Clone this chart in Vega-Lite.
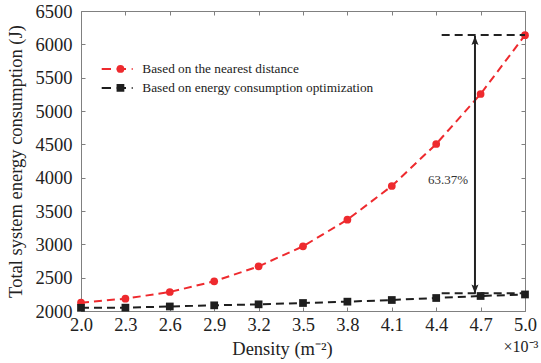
{
  "$schema": "https://vega.github.io/schema/vega-lite/v6.json",
  "width": 444,
  "height": 300,
  "autosize": {"type": "none"},
  "padding": {"left": 81, "top": 11, "right": 16, "bottom": 52},
  "background": "white",
  "config": {
    "view": {"stroke": null},
    "axis": {
      "grid": false,
      "domainColor": "#808080",
      "tickColor": "#808080",
      "labelFont": "Liberation Serif",
      "titleFont": "Liberation Serif",
      "labelColor": "#222222",
      "titleColor": "#222222",
      "labelFontSize": 18.5,
      "titleFontSize": 18.5,
      "titleFontWeight": "normal",
      "tickSize": -4
    }
  },
  "datasets": {
    "series": [
      {"d": 2.0, "e": 2125, "s": "Based on the nearest distance"},
      {"d": 2.3, "e": 2185, "s": "Based on the nearest distance"},
      {"d": 2.6, "e": 2285, "s": "Based on the nearest distance"},
      {"d": 2.9, "e": 2445, "s": "Based on the nearest distance"},
      {"d": 3.2, "e": 2670, "s": "Based on the nearest distance"},
      {"d": 3.5, "e": 2970, "s": "Based on the nearest distance"},
      {"d": 3.8, "e": 3370, "s": "Based on the nearest distance"},
      {"d": 4.1, "e": 3875, "s": "Based on the nearest distance"},
      {"d": 4.4, "e": 4505, "s": "Based on the nearest distance"},
      {"d": 4.7, "e": 5255, "s": "Based on the nearest distance"},
      {"d": 5.0, "e": 6137, "s": "Based on the nearest distance"},
      {"d": 2.0, "e": 2048, "s": "Based on energy consumption optimization"},
      {"d": 2.3, "e": 2050, "s": "Based on energy consumption optimization"},
      {"d": 2.6, "e": 2068, "s": "Based on energy consumption optimization"},
      {"d": 2.9, "e": 2085, "s": "Based on energy consumption optimization"},
      {"d": 3.2, "e": 2100, "s": "Based on energy consumption optimization"},
      {"d": 3.5, "e": 2120, "s": "Based on energy consumption optimization"},
      {"d": 3.8, "e": 2140, "s": "Based on energy consumption optimization"},
      {"d": 4.1, "e": 2165, "s": "Based on energy consumption optimization"},
      {"d": 4.4, "e": 2195, "s": "Based on energy consumption optimization"},
      {"d": 4.7, "e": 2225, "s": "Based on energy consumption optimization"},
      {"d": 5.0, "e": 2248, "s": "Based on energy consumption optimization"}
    ],
    "refs": [
      {"x1": 4.437, "x2": 5.0, "y": 6140},
      {"x1": 4.437, "x2": 5.0, "y": 2265}
    ],
    "arrow": [{"x": 4.662, "y1": 2262, "y2": 6125}],
    "up": [{"x": 4.662, "y": 6125}],
    "down": [{"x": 4.662, "y": 2262}],
    "pct": [{"x": 4.48, "y": 3969, "t": "63.37%"}],
    "expo": [{"x": 4.973, "y": 1453, "t": "×10⁻³"}]
  },
  "layer": [
    {
      "data": {"name": "series"},
      "mark": {"type": "line", "strokeDash": [8, 5], "strokeWidth": 2},
      "encoding": {
        "x": {
          "field": "d", "type": "quantitative",
          "scale": {"domain": [2.0, 5.0], "nice": false, "zero": false},
          "axis": {
            "orient": "bottom",
            "values": [2.0, 2.3, 2.6, 2.9, 3.2, 3.5, 3.8, 4.1, 4.4, 4.7, 5.0],
            "format": ".1f",
            "labelBaseline": "middle",
            "labelPadding": 17.5,
            "labelFlush": false,
            "title": "Density (m⁻²)",
            "titleX": 201,
            "titleY": 37,
            "titleBaseline": "middle",
            "titleAlign": "center"
          }
        },
        "y": {
          "field": "e", "type": "quantitative",
          "scale": {"domain": [2000, 6500], "nice": false, "zero": false},
          "axis": {
            "orient": "left",
            "values": [2000, 2500, 3000, 3500, 4000, 4500, 5000, 5500, 6000, 6500],
            "format": "d",
            "labelBaseline": "middle",
            "labelPadding": 13,
            "labelFlush": false,
            "title": "Total system energy consumption (J)",
            "titleX": -66,
            "titleY": 150,
            "titleAngle": -90,
            "titleBaseline": "middle",
            "titleAlign": "center"
          }
        },
        "color": {
          "field": "s", "type": "nominal",
          "scale": {
            "domain": ["Based on the nearest distance", "Based on energy consumption optimization"],
            "range": ["#ee2a2e", "#1e1e1e"]
          },
          "legend": {
            "orient": "none",
            "legendX": 19.7,
            "legendY": 48.6,
            "title": null,
            "padding": 0,
            "labelFont": "Liberation Serif",
            "labelFontSize": 13.3,
            "labelColor": "#222222",
            "labelLimit": 0,
            "symbolType": "stroke",
            "symbolSize": 961,
            "symbolDash": [9.3, 5.7],
            "symbolStrokeWidth": 2,
            "clipHeight": 18.7,
            "rowPadding": 0,
            "labelOffset": 8.6
          }
        }
      }
    },
    {
      "data": {"name": "series"},
      "mark": {"type": "point", "filled": true, "opacity": 1, "strokeWidth": 0, "size": 60},
      "encoding": {
        "x": {
          "field": "d", "type": "quantitative",
          "scale": {"domain": [2.0, 5.0], "nice": false, "zero": false},
          "axis": {
            "orient": "top",
            "values": [2.0, 2.3, 2.6, 2.9, 3.2, 3.5, 3.8, 4.1, 4.4, 4.7, 5.0],
            "labels": false,
            "title": null
          }
        },
        "y": {
          "field": "e", "type": "quantitative",
          "scale": {"domain": [2000, 6500], "nice": false, "zero": false},
          "axis": {
            "orient": "right",
            "values": [2000, 2500, 3000, 3500, 4000, 4500, 5000, 5500, 6000, 6500],
            "labels": false,
            "title": null
          }
        },
        "fill": {
          "field": "s", "type": "nominal",
          "sort": "descending",
          "scale": {"range": ["#ee2a2e", "#1e1e1e"]},
          "legend": {
            "orient": "none",
            "legendX": 32.8,
            "legendY": 48.6,
            "title": null,
            "padding": 0,
            "labelFontSize": 13.3,
            "labelOpacity": 0,
            "labelLimit": 0,
            "labelExpr": "' '",
            "symbolSize": 60,
            "symbolStrokeWidth": 0,
            "clipHeight": 18.7,
            "rowPadding": 0
          }
        },
        "shape": {
          "field": "s", "type": "nominal",
          "sort": "descending",
          "scale": {"range": ["circle", "square"]},
          "legend": {
            "orient": "none",
            "legendX": 32.8,
            "legendY": 48.6,
            "title": null,
            "padding": 0,
            "labelFontSize": 13.3,
            "labelOpacity": 0,
            "labelLimit": 0,
            "labelExpr": "' '",
            "symbolSize": 60,
            "symbolStrokeWidth": 0,
            "clipHeight": 18.7,
            "rowPadding": 0
          }
        }
      }
    },
    {
      "data": {"name": "refs"},
      "mark": {"type": "rule", "strokeDash": [8, 5], "strokeWidth": 2, "color": "#222222"},
      "encoding": {
        "x": {"field": "x1", "type": "quantitative", "scale": {"domain": [2.0, 5.0], "nice": false, "zero": false}, "axis": null},
        "x2": {"field": "x2"},
        "y": {"field": "y", "type": "quantitative", "scale": {"domain": [2000, 6500], "nice": false, "zero": false}, "axis": null}
      }
    },
    {
      "data": {"name": "arrow"},
      "mark": {"type": "rule", "strokeWidth": 2, "color": "#222222"},
      "encoding": {
        "x": {"field": "x", "type": "quantitative", "scale": {"domain": [2.0, 5.0], "nice": false, "zero": false}, "axis": null},
        "y": {"field": "y1", "type": "quantitative", "scale": {"domain": [2000, 6500], "nice": false, "zero": false}, "axis": null},
        "y2": {"field": "y2"}
      }
    },
    {
      "data": {"name": "up"},
      "mark": {"type": "point", "filled": true, "opacity": 1, "strokeWidth": 0, "color": "#222222", "size": 196, "shape": "M0,0L-0.5,1.3L0,1.05L0.5,1.3Z"},
      "encoding": {
        "x": {"field": "x", "type": "quantitative", "scale": {"domain": [2.0, 5.0], "nice": false, "zero": false}, "axis": null},
        "y": {"field": "y", "type": "quantitative", "scale": {"domain": [2000, 6500], "nice": false, "zero": false}, "axis": null}
      }
    },
    {
      "data": {"name": "down"},
      "mark": {"type": "point", "filled": true, "opacity": 1, "strokeWidth": 0, "color": "#222222", "size": 196, "shape": "M0,0L-0.5,-1.3L0,-1.05L0.5,-1.3Z"},
      "encoding": {
        "x": {"field": "x", "type": "quantitative", "scale": {"domain": [2.0, 5.0], "nice": false, "zero": false}, "axis": null},
        "y": {"field": "y", "type": "quantitative", "scale": {"domain": [2000, 6500], "nice": false, "zero": false}, "axis": null}
      }
    },
    {
      "data": {"name": "pct"},
      "mark": {"type": "text", "font": "Liberation Serif", "fontSize": 13, "color": "#333333", "align": "center", "baseline": "middle"},
      "encoding": {
        "x": {"field": "x", "type": "quantitative", "scale": {"domain": [2.0, 5.0], "nice": false, "zero": false}, "axis": null},
        "y": {"field": "y", "type": "quantitative", "scale": {"domain": [2000, 6500], "nice": false, "zero": false}, "axis": null},
        "text": {"field": "t"}
      }
    },
    {
      "data": {"name": "expo"},
      "mark": {"type": "text", "font": "Liberation Serif", "fontSize": 16, "color": "#222222", "align": "center", "baseline": "middle"},
      "encoding": {
        "x": {"field": "x", "type": "quantitative", "scale": {"domain": [2.0, 5.0], "nice": false, "zero": false}, "axis": null},
        "y": {"field": "y", "type": "quantitative", "scale": {"domain": [2000, 6500], "nice": false, "zero": false}, "axis": null},
        "text": {"field": "t"}
      }
    }
  ],
  "resolve": {"axis": {"x": "independent", "y": "independent"}}
}
